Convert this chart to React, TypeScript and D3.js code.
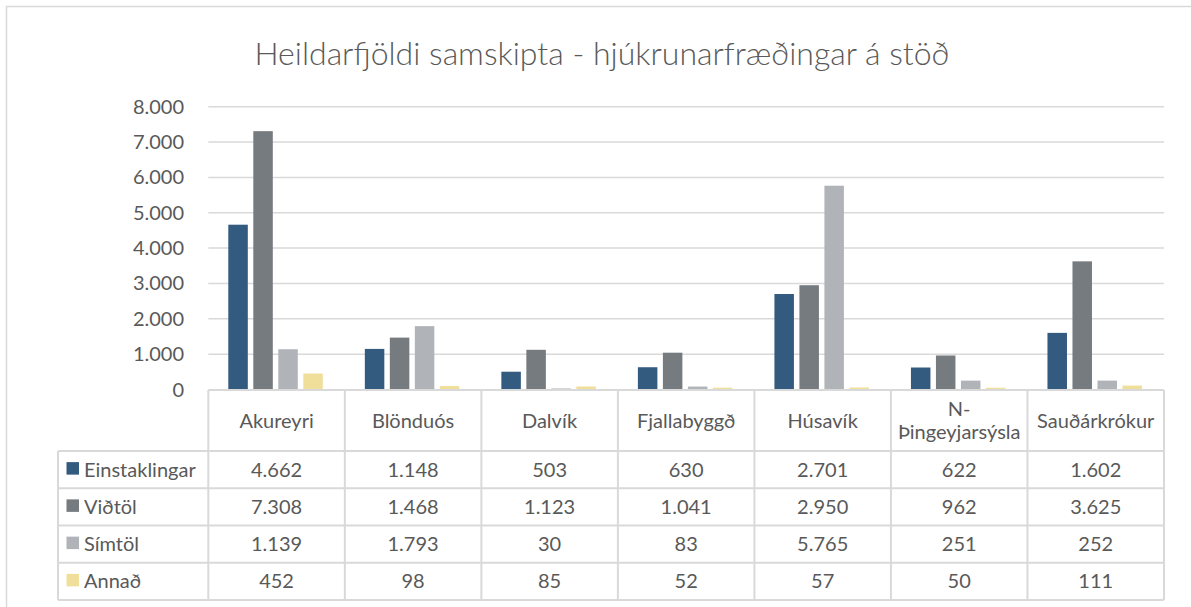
import React, { useEffect, useRef } from 'react';
import * as d3 from 'd3';

const title = 'Heildarfjöldi samskipta - hjúkrunarfræðingar á stöð';
const categories = ['Akureyri', 'Blönduós', 'Dalvík', 'Fjallabyggð', 'Húsavík', 'N-Þingeyjarsýsla', 'Sauðárkrókur'];
const seriesNames = ['Einstaklingar', 'Viðtöl', 'Símtöl', 'Annað'];
const einstaklingar = [4662, 1148, 503, 630, 2701, 622, 1602];
const vidtol = [7308, 1468, 1123, 1041, 2950, 962, 3625];
const simtol = [1139, 1793, 30, 83, 5765, 251, 252];
const annad = [452, 98, 85, 52, 57, 50, 111];
const yTicks = [0, 1000, 2000, 3000, 4000, 5000, 6000, 7000, 8000];
const colors = ['#335a7f', '#767b7f', '#b0b4b8', '#f0df9b'];

const App = () => {
  const svgRef = useRef<SVGSVGElement>(null);

  useEffect(() => {
    const svg = d3.select(svgRef.current);
    svg.selectAll('*').remove();

    const font = 'Lato, "Open Sans", sans-serif';
    const textColor = '#595959';
    const lineColor = '#d9d9d9';
    const values = [einstaklingar, vidtol, simtol, annad];

    const locale = d3.formatLocale({ decimal: ',', thousands: '.', grouping: [3], currency: ['', ' kr'] });
    const fmt = locale.format(',d');

    const left = 208.3;
    const right = 1164;
    const headerTop = 390;
    const headerBottom = 451;
    const rowH = 37.25;
    const tableLeft = 58;

    // outer chart border
    svg.append('rect')
      .attr('x', 6.5).attr('y', 6.5)
      .attr('width', 1200).attr('height', 620)
      .attr('fill', 'white')
      .attr('stroke', lineColor).attr('stroke-width', 1.5);

    svg.append('text')
      .attr('x', 602).attr('y', 65)
      .attr('text-anchor', 'middle')
      .attr('font-family', font).attr('font-size', 32).attr('font-weight', 300)
      .attr('fill', textColor)
      .text(title);

    const y = d3.scaleLinear().domain([0, 8000]).range([389.5, 106.7]);
    const x = d3.scaleBand().domain(categories).range([left, right]).padding(0);
    const xs = d3.scaleBand().domain(seriesNames).range([20, 114.5]).paddingInner(0.22).paddingOuter(0);

    // gridlines
    svg.append('g')
      .selectAll('line')
      .data(yTicks.filter(d => d > 0))
      .enter()
      .append('line')
      .attr('x1', left).attr('x2', right)
      .attr('y1', d => y(d)).attr('y2', d => y(d))
      .attr('stroke', lineColor).attr('stroke-width', 1.5);

    // y labels
    svg.append('g')
      .selectAll('text')
      .data(yTicks)
      .enter()
      .append('text')
      .attr('x', 184)
      .attr('y', d => y(d) + 7)
      .attr('text-anchor', 'end')
      .attr('font-family', font).attr('font-size', 20)
      .attr('fill', textColor)
      .text(d => fmt(d));

    // bars
    seriesNames.forEach((s, si) => {
      svg.append('g')
        .selectAll('rect')
        .data(categories)
        .enter()
        .append('rect')
        .attr('x', c => (x(c) as number) + (xs(s) as number))
        .attr('width', xs.bandwidth())
        .attr('y', (c, i) => y(values[si][i]))
        .attr('height', (c, i) => y(0) - y(values[si][i]))
        .attr('fill', colors[si]);
    });

    // data table
    const tableBottom = headerBottom + rowH * seriesNames.length;
    const g = svg.append('g').attr('stroke', lineColor).attr('stroke-width', 2).attr('fill', 'none');
    g.append('line').attr('x1', left).attr('x2', right).attr('y1', headerTop).attr('y2', headerTop);
    seriesNames.forEach((s, i) => {
      const yy = headerBottom + rowH * i;
      g.append('line').attr('x1', tableLeft).attr('x2', right).attr('y1', yy).attr('y2', yy);
    });
    g.append('line').attr('x1', tableLeft).attr('x2', right).attr('y1', tableBottom).attr('y2', tableBottom);
    g.append('line').attr('x1', tableLeft).attr('x2', tableLeft).attr('y1', headerBottom).attr('y2', tableBottom);
    categories.forEach(c => {
      const xx = x(c) as number;
      g.append('line').attr('x1', xx).attr('x2', xx).attr('y1', headerTop).attr('y2', tableBottom);
    });
    g.append('line').attr('x1', right).attr('x2', right).attr('y1', headerTop).attr('y2', tableBottom);

    // category headers
    categories.forEach(c => {
      const idx = c.indexOf('-');
      const lines = idx >= 0 ? [c.slice(0, idx + 1), c.slice(idx + 1)] : [c];
      const cx = (x(c) as number) + x.bandwidth() / 2;
      const mid = (headerTop + headerBottom) / 2;
      lines.forEach((ln, li) => {
        svg.append('text')
          .attr('x', cx)
          .attr('y', mid + 7 + (li - (lines.length - 1) / 2) * 23)
          .attr('text-anchor', 'middle')
          .attr('font-family', font).attr('font-size', 20)
          .attr('fill', textColor)
          .text(ln);
      });
    });

    // rows
    seriesNames.forEach((s, si) => {
      const mid = headerBottom + rowH * si + rowH / 2;
      svg.append('rect')
        .attr('x', 66.5).attr('y', mid - 7.5)
        .attr('width', 12.5).attr('height', 12.5)
        .attr('fill', colors[si]);
      svg.append('text')
        .attr('x', 84).attr('y', mid + 7)
        .attr('font-family', font).attr('font-size', 20)
        .attr('fill', textColor)
        .text(s);
      svg.append('g')
        .selectAll('text')
        .data(categories)
        .enter()
        .append('text')
        .attr('x', c => (x(c) as number) + x.bandwidth() / 2)
        .attr('y', mid + 7)
        .attr('text-anchor', 'middle')
        .attr('font-family', font).attr('font-size', 20)
        .attr('fill', textColor)
        .text((c, i) => fmt(values[si][i]));
    });
  }, []);

  return (
    <svg ref={svgRef} width={1191} height={607} style={{ position: 'absolute', left: 0, top: 0, background: 'white' }}></svg>
  );
};

export default App;
